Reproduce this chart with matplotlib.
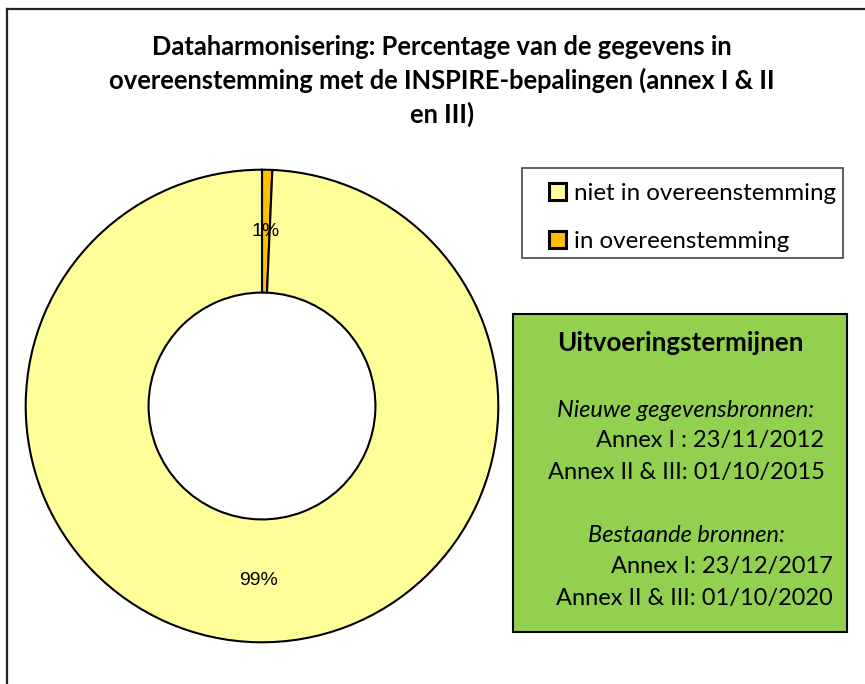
import matplotlib
matplotlib.use("Agg")
import matplotlib.pyplot as plt
from matplotlib.patches import Rectangle
from matplotlib.lines import Line2D

# ---- data ----
categories = ["in overeenstemming", "niet in overeenstemming"]
values = [0.7, 99.3]
colors = ["#FFC000", "#FFFF99"]
legend_order = ["niet in overeenstemming", "in overeenstemming"]
title = ("Dataharmonisering: Percentage van de gegevens in\n"
         "overeenstemming met de INSPIRE-bepalingen (annex I & II\n"
         "en III)")
box_title = "Uitvoeringstermijnen"
box_lines = [
    ("Nieuwe gegevensbronnen:", "italic"),
    ("Annex I : 23/11/2012", "normal"),
    ("Annex II & III: 01/10/2015", "normal"),
    ("Bestaande bronnen:", "italic"),
    ("Annex I: 23/12/2017", "normal"),
    ("Annex II & III: 01/10/2020", "normal"),
]

W, H = 865, 684
fig = plt.figure(figsize=(W / 100, H / 100), dpi=100)
fig.patch.set_facecolor("white")

def fx(x):
    return x / W

def fy(y):
    return 1 - y / H

FONT = "Lato"

# outer frame (only left & top visible)
fig.add_artist(Line2D([fx(7), fx(7)], [fy(9), fy(684)], color="#222222", lw=1.6,
                      transform=fig.transFigure))
fig.add_artist(Line2D([fx(7), fx(865)], [fy(9), fy(9)], color="#222222", lw=1.6,
                      transform=fig.transFigure))

# title
fig.text(fx(442), fy(81), title, ha="center", va="center", fontsize=18.4,
         fontweight="bold", family=FONT, linespacing=1.4)

# donut
cx, cy, r = 262, 406, 237
ax = fig.add_axes([fx(cx - r), fy(cy + r), 2 * r / W, 2 * r / H])
wedges, texts = ax.pie(values, colors=colors, startangle=90, counterclock=False,
                       wedgeprops=dict(width=0.52, edgecolor="black", linewidth=1.5),
                       labels=[f"{v:.0f}%" for v in values], labeldistance=0.74,
                       textprops=dict(fontsize=14, family="Liberation Sans"))
for t in texts:
    t.set_ha("center")
    t.set_va("center")
ax.set_xlim(-1.003, 1.003)
ax.set_ylim(-1.003, 1.003)
ax.set_aspect("equal")
ax.axis("off")

# legend
fig.add_artist(Rectangle((fx(522), fy(258)), fx(843) - fx(522), fy(168) - fy(258),
                         transform=fig.transFigure, facecolor="white",
                         edgecolor="#444444", lw=1.2))
handles = [wedges[categories.index(c)] for c in legend_order]
leg = fig.legend(handles, legend_order, loc="upper left",
                 bbox_to_anchor=(fx(532), fy(166)), frameon=False,
                 prop=dict(family=FONT, size=17.4), handlelength=0.7,
                 handleheight=0.7, handletextpad=0.35, labelspacing=1.12,
                 borderpad=0.2)
for h in leg.legend_handles:
    h.set_linewidth(2.2)

# green box
fig.add_artist(Rectangle((fx(513), fy(632)), fx(847) - fx(513), fy(314) - fy(632),
                         transform=fig.transFigure, facecolor="#92D050",
                         edgecolor="black", lw=1.5))
fig.text(fx(680), fy(343), box_title, ha="center", va="center", fontsize=18.7,
         fontweight="bold", family=FONT)
line_y = [410, 441, 473, 536, 567, 599]
line_x = [686, 710, 686, 686, 722, 694]
for (txt, style), x, y in zip(box_lines, line_x, line_y):
    fig.text(fx(x), fy(y), txt, ha="center", va="center", fontsize=17,
             fontstyle=style, family=FONT)

fig.savefig("out.png", dpi=100)
